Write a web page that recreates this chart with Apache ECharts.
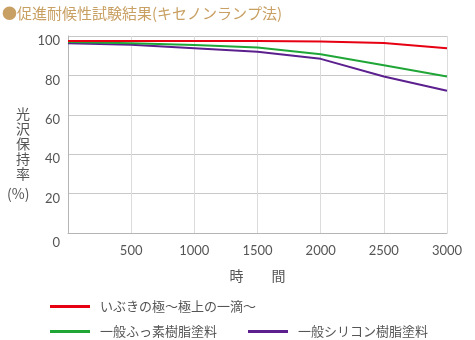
<!DOCTYPE html>
<html><head><meta charset="utf-8">
<script src="https://cdn.jsdelivr.net/npm/echarts@6/dist/echarts.min.js"></script>
<style>html,body{margin:0;padding:0;background:#fff}#c{width:475px;height:340px}</style>
</head><body><div id="c"></div>
<script>
const hours = [0, 500, 1000, 1500, 2000, 2500, 3000];
const seriesNames = ['いぶきの極〜極上の一滴〜', '一般ふっ素樹脂塗料', '一般シリコン樹脂塗料'];
const ibuki = [97.5, 97.5, 97.5, 97.5, 97.2, 96.4, 93.8];
const fluoro = [96.9, 96.3, 95.4, 94.2, 90.7, 85.2, 79.4];
const silicone = [96.3, 95.6, 93.8, 92.0, 88.4, 79.4, 72.2];
const yTicks = [0, 20, 40, 60, 80, 100];
const xTicks = [500, 1000, 1500, 2000, 2500, 3000];
const colors = ['#e60012', '#1fa637', '#5b1f8e'];
const font = '"Noto Sans CJK JP", "Noto Sans", sans-serif';
const numFont = 'Lato, "Noto Sans", sans-serif';

const chart = echarts.init(document.getElementById('c'), null, {renderer: 'canvas'});
const mk = (arr) => hours.map((h, i) => [h, arr[i]]);
const allData = [ibuki, fluoro, silicone];
const legendText = {color: '#555', fontSize: 13, fontFamily: font, padding: [0, 0, 0, 5]};
chart.setOption({
  animation: false,
  textStyle: {fontFamily: font},
  grid: {left: 68, right: 28, top: 36, bottom: 107, containLabel: false},
  xAxis: {
    type: 'value', min: 0, max: 3000, interval: 500,
    name: '時　　間', nameLocation: 'middle', nameGap: 36,
    nameTextStyle: {color: '#555', fontSize: 14, fontFamily: font},
    axisLine: {show: true, lineStyle: {color: '#b5b5b5', width: 1}},
    axisTick: {show: false},
    splitLine: {show: true, lineStyle: {color: '#dcdcdc', width: 1}},
    axisLabel: {color: '#555', fontSize: 13, fontFamily: numFont, margin: 11,
      formatter: v => xTicks.includes(v) ? String(v) : ''}
  },
  yAxis: {
    type: 'value', min: 0, max: 100, interval: 20,
    axisLine: {show: true, lineStyle: {color: '#b5b5b5', width: 1}},
    axisTick: {show: false},
    splitLine: {show: true, lineStyle: {color: '#c8c8c8', width: 1}},
    axisLabel: {color: '#555', fontSize: 13, fontFamily: numFont, margin: 8,
      padding: [10, 0, 0, 0],
      formatter: v => v === 0 ? '{z|0}' : (yTicks.includes(v) ? String(v) : ''),
      rich: {z: {padding: [10, 0, 0, 0], fontSize: 13, color: '#555', fontFamily: numFont}}}
  },
  legend: [
    {data: [seriesNames[0]], left: 45, top: 295, itemWidth: 40, itemHeight: 3, itemGap: 10,
      icon: 'rect', textStyle: legendText},
    {data: [seriesNames[1], seriesNames[2]], left: 45, top: 320, itemWidth: 40, itemHeight: 3, itemGap: 31,
      icon: 'rect', textStyle: legendText}
  ],
  graphic: [
    {type: 'text', left: 2, top: 6, style: {text: '●促進耐候性試験結果(キセノンランプ法)', fill: '#c9a063', font: '15px ' + font}},
    {type: 'text', left: 16, top: 106, style: {text: '光\n沢\n保\n持\n率', fill: '#555', font: '14px ' + font, lineHeight: 15}},
    {type: 'text', left: 7, top: 187, style: {text: '(%)', fill: '#555', font: '14px ' + font}}
  ],
  series: allData.map((d, i) => ({
    name: seriesNames[i], type: 'line', data: mk(d), symbol: 'none',
    lineStyle: {color: colors[i], width: 2}, itemStyle: {color: colors[i]}, z: 3 - i
  }))
});
</script></body></html>
